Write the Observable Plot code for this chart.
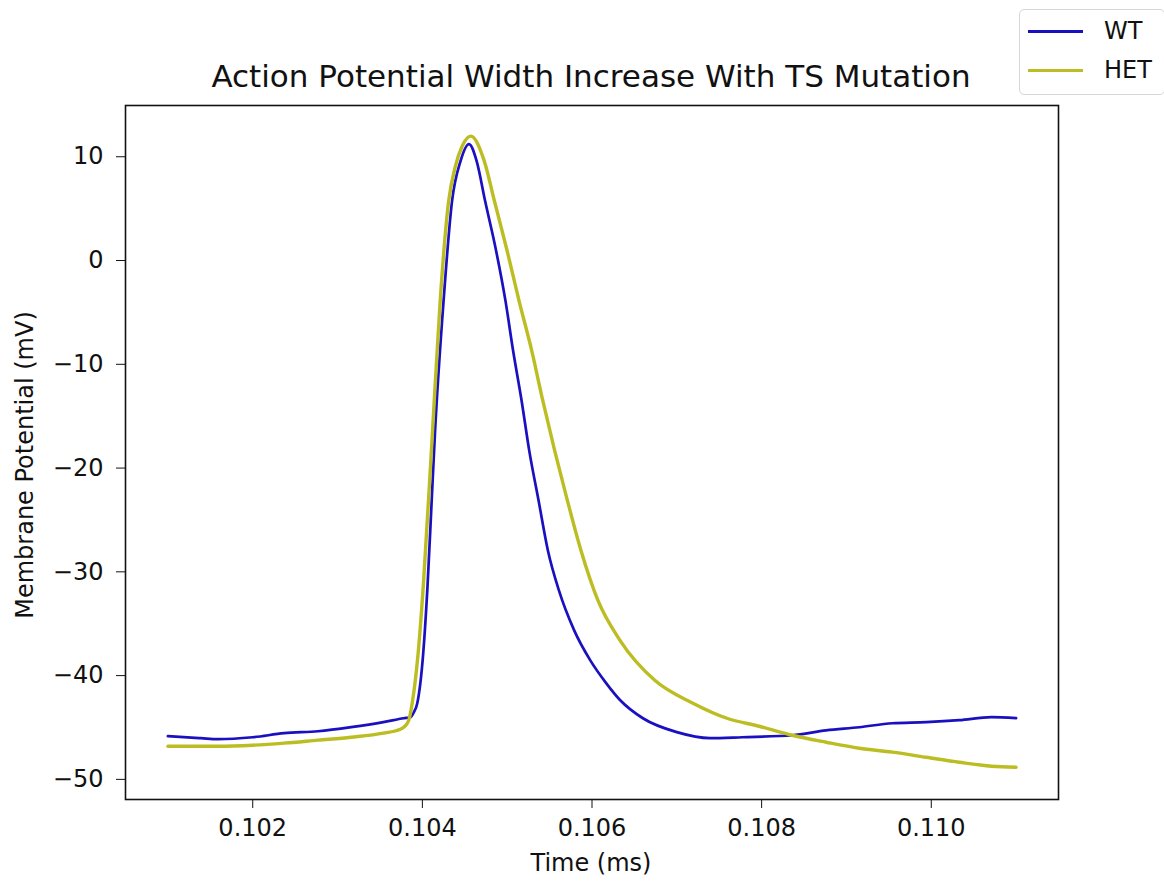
<!DOCTYPE html>
<html>
<head>
<meta charset="utf-8">
<script src="https://cdn.jsdelivr.net/npm/d3@7"></script>
<script src="https://cdn.jsdelivr.net/npm/@observablehq/plot@0.6"></script>
<style>
  html, body { margin: 0; padding: 0; background: #fff; }
  #wrap { position: relative; width: 1164px; height: 881px; font-family: "DejaVu Sans", sans-serif; color: #111; overflow: hidden; }
  #title { position: absolute; left: 91px; width: 1000px; top: 58px; text-align: center; font-size: 31px; line-height: 36px; white-space: nowrap; }
  #xlabel { position: absolute; left: 391px; width: 400px; top: 848px; text-align: center; font-size: 24px; line-height: 30px; }
  #ylabel { position: absolute; left: 25px; top: 465px; width: 0; height: 0; }
  #ylabel span { position: absolute; left: 0; top: 0; transform: translate(-50%, -50%) rotate(-90deg); white-space: nowrap; font-size: 24px; line-height: 30px; }
  #legend { position: absolute; left: 1019px; top: 9px; width: 146px; height: 86px; border: 1px solid #d6d6d6; border-radius: 5px; box-sizing: border-box; background: #fff; }
  .lg { position: absolute; left: 8px; height: 3px; width: 55px; }
  .lt { position: absolute; left: 84px; font-size: 24px; line-height: 28px; }
</style>
</head>
<body>
<div id="wrap">
  <div id="chart"></div>
  <div id="title">Action Potential Width Increase With TS Mutation</div>
  <div id="xlabel">Time (ms)</div>
  <div id="ylabel"><span>Membrane Potential (mV)</span></div>
  <div id="legend"></div>
</div>
<script>
// Series names and colours
const seriesNames = ["WT", "HET"];
const seriesColors = ["#1a10c0", "#bcbd22"];

// WT trace (time in ms, membrane potential in mV)
const wtTime = [0.1010, 0.10139, 0.10159, 0.1020, 0.10237, 0.10277, 0.10316, 0.10354, 0.10378, 0.10386, 0.10390, 0.10394, 0.10401, 0.10406, 0.10411, 0.10415, 0.10425, 0.10435, 0.10445, 0.10455, 0.10464, 0.10474, 0.10487, 0.10498, 0.10507, 0.10517, 0.10526, 0.10537, 0.10548, 0.10561, 0.10579, 0.10598, 0.10616, 0.10633, 0.10660, 0.10700, 0.10739, 0.10777, 0.10836, 0.10876, 0.10915, 0.10954, 0.10994, 0.11033, 0.11071, 0.1110];
const wtV    = [-45.84, -46.03, -46.13, -45.94, -45.55, -45.36, -44.97, -44.49, -44.11, -44.01, -43.53, -42.66, -37.85, -31.50, -23.13, -16.40, -3.89, 5.73, 9.58, 11.22, 9.58, 5.73, 0.92, -3.89, -8.70, -13.51, -18.32, -23.13, -27.94, -31.79, -35.64, -38.53, -40.65, -42.35, -44.11, -45.45, -46.03, -45.94, -45.75, -45.27, -44.98, -44.59, -44.49, -44.30, -44.01, -44.10];

// HET trace
const hetTime = [0.1010, 0.10159, 0.1020, 0.10237, 0.10277, 0.10316, 0.10354, 0.10374, 0.10378, 0.10384, 0.10388, 0.10395, 0.10401, 0.10412, 0.10421, 0.10431, 0.10439, 0.10447, 0.10457, 0.10473, 0.10485, 0.10500, 0.10514, 0.10529, 0.10542, 0.10556, 0.10571, 0.10587, 0.10607, 0.10633, 0.10674, 0.10719, 0.10759, 0.10797, 0.10836, 0.10876, 0.10915, 0.10954, 0.10994, 0.11033, 0.11071, 0.1110];
const hetV    = [-46.81, -46.81, -46.71, -46.51, -46.22, -45.94, -45.55, -45.17, -44.98, -44.30, -42.66, -37.85, -31.50, -16.40, -3.89, 5.73, 9.10, 11.03, 11.99, 9.58, 5.73, 0.92, -3.89, -8.70, -13.51, -18.32, -23.13, -27.94, -32.75, -36.60, -40.45, -42.66, -44.11, -44.88, -45.75, -46.42, -47.00, -47.38, -47.87, -48.35, -48.73, -48.83];

// Axis ticks
const xTicks = [0.102, 0.104, 0.106, 0.108, 0.110];
const yTicks = [-50, -40, -30, -20, -10, 0, 10];

const wtData = wtTime.map((t, i) => ({t, v: wtV[i]}));
const hetData = hetTime.map((t, i) => ({t, v: hetV[i]}));

const chart = Plot.plot({
  width: 1164,
  height: 881,
  marginLeft: 125,
  marginRight: 106,
  marginTop: 105,
  marginBottom: 82,
  style: { fontFamily: "DejaVu Sans, sans-serif", fontSize: "24px", color: "#111", background: "#fff" },
  x: { domain: [0.1005, 0.1115], ticks: xTicks, tickFormat: d3.format(".3f"), tickSize: 9, tickPadding: 10, label: null },
  y: { domain: [-51.94, 14.94], ticks: yTicks, tickFormat: d3.format("d"), tickSize: 9, tickPadding: 13, label: null },
  marks: [
    Plot.line(wtData, {x: "t", y: "v", stroke: seriesColors[0], strokeWidth: 2.7, curve: "monotone-x"}),
    Plot.line(hetData, {x: "t", y: "v", stroke: seriesColors[1], strokeWidth: 3.4, curve: "monotone-x"}),
    Plot.frame({stroke: "#111", strokeWidth: 1.6})
  ]
});
document.getElementById("chart").appendChild(chart);

// Legend
const legend = document.getElementById("legend");
seriesNames.forEach((name, i) => {
  const top = 20 + i * 39;
  const sw = document.createElement("div");
  sw.className = "lg";
  sw.style.top = top + "px";
  sw.style.background = seriesColors[i];
  legend.appendChild(sw);
  const lt = document.createElement("div");
  lt.className = "lt";
  lt.style.top = (top - 13) + "px";
  lt.textContent = name;
  legend.appendChild(lt);
});
</script>
</body>
</html>
